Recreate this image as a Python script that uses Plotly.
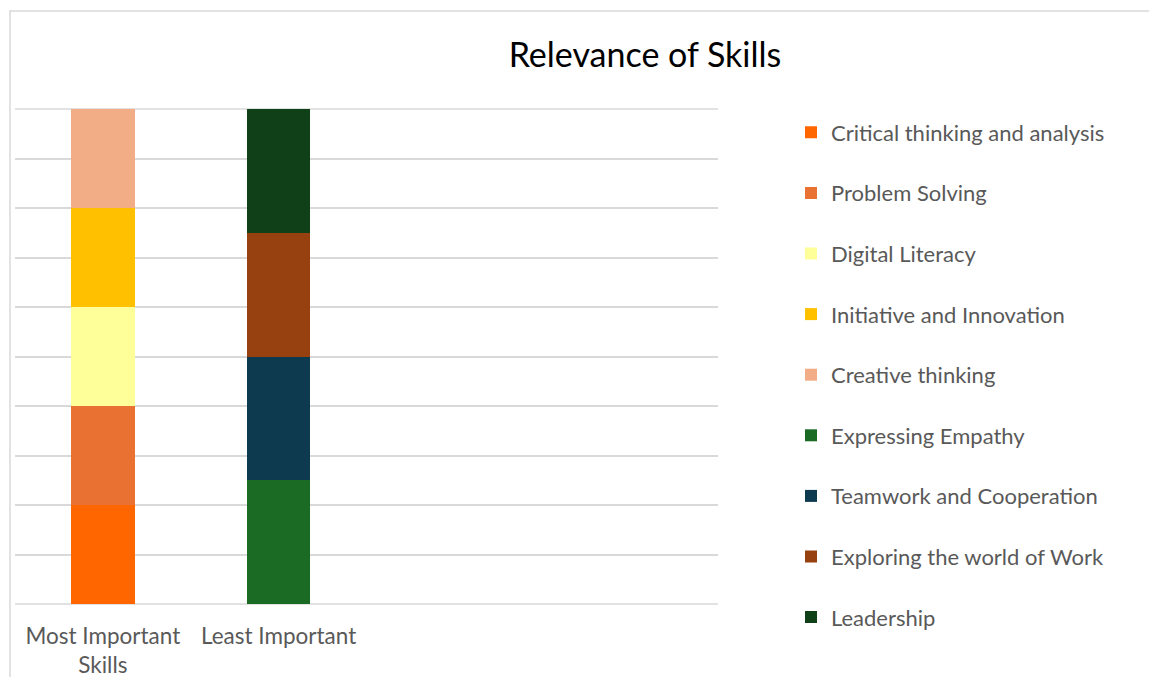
import plotly.graph_objects as go

categories = ["Most Important Skills", "Least Important", "Blank 3", "Blank 4"]
tick_labels = ["Most Important<br>Skills", "Least Important"]
series_names = [
    "Critical thinking and analysis",
    "Problem Solving",
    "Digital Literacy",
    "Initiative and Innovation",
    "Creative thinking",
    "Expressing Empathy",
    "Teamwork and Cooperation",
    "Exploring the world of Work",
    "Leadership",
]
most_important = [1, 1, 1, 1, 1, 0, 0, 0, 0]
least_important = [0, 0, 0, 0, 0, 1, 1, 1, 1]
colors = ["#FF6600", "#E97132", "#FFFF99", "#FFC000", "#F2AC86",
          "#1B6B25", "#0E3A50", "#974110", "#104018"]

W, H = 1149, 677
L, R, T, B = 15, 1149 - 718, 109, 677 - 604
pw, ph = W - L - R, H - T - B

fig = go.Figure()
for i, name in enumerate(series_names):
    fig.add_trace(go.Bar(
        x=categories[:2], y=[most_important[i], least_important[i]],
        name=name, marker=dict(color=colors[i], line=dict(width=0)),
        width=0.36, legendgroup=name,
    ))

fnt = "Lato, Carlito, Calibri, sans-serif"
fig.update_layout(
    width=W, height=H, barmode="stack", barnorm="fraction",
    margin=dict(l=L, r=R, t=T, b=B, autoexpand=False),
    paper_bgcolor="white", plot_bgcolor="white",
    font=dict(family=fnt, color="#595959", size=22),
    title=dict(text="Relevance of Skills", x=645 / W, xanchor="center",
               y=1 - 55 / H, yanchor="middle",
               font=dict(size=34, color="#000000", family=fnt)),
    xaxis=dict(type="category", categoryorder="array", categoryarray=categories,
               range=[-0.5, 3.5], tickvals=categories[:2], ticktext=tick_labels,
               showgrid=False, showline=False, zeroline=False, automargin=False,
               ticks="", ticklabelstandoff=16,
               tickfont=dict(size=22.5, color="#595959")),
    yaxis=dict(range=[0, 1], dtick=0.1, showticklabels=False, showgrid=True,
               automargin=False,
               gridcolor="#D9D9D9", gridwidth=1.5, zeroline=False, showline=False),
    showlegend=True,
    legend=dict(xref="container", yref="container", x=791 / W, xanchor="left",
                y=1 - 111.5 / H, yanchor="top", traceorder="grouped",
                tracegroupgap=29, itemwidth=30, maxheight=650,
                font=dict(size=22, color="#595959", family=fnt)),
    bargap=0.64,
)
# chart frame
fig.add_shape(type="rect", xref="paper", yref="paper",
              x0=(10 - L) / pw, x1=(W + 20 - L) / pw,
              y0=-(H + 20 - (T + ph)) / ph, y1=(T + ph - 11) / ph,
              line=dict(color="#D9D9D9", width=1.5), fillcolor="rgba(0,0,0,0)",
              layer="below")
# axis baseline and top gridline
for yv in (0, 1):
    fig.add_shape(type="line", xref="paper", yref="paper", x0=0, x1=1, y0=yv, y1=yv,
                  line=dict(color="#D9D9D9", width=1.5), layer="below")

fig.write_html("out.html")
